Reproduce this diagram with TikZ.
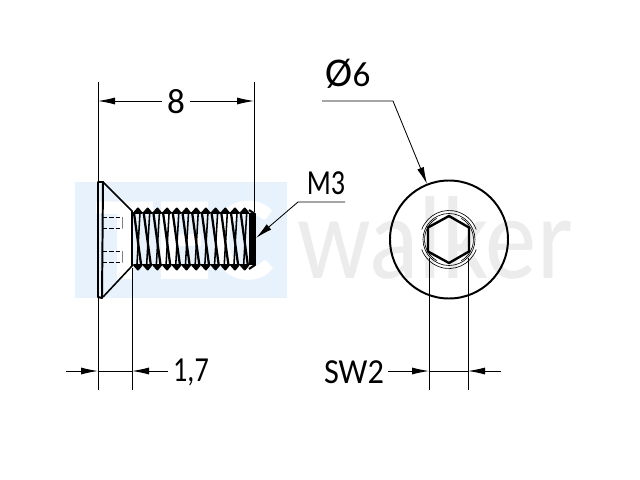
\documentclass[tikz,border=0pt]{standalone}
\usepackage{fontspec}
\setmainfont{Carlito}
\usetikzlibrary{arrows.meta,positioning,calc}
\definecolor{markblue}{RGB}{231,242,252}
\definecolor{markgray}{RGB}{236,236,236}
\tikzset{
  dimline/.style={black,line width=0.6pt},
  dimarrow/.style={black,line width=0.6pt,-{Latex[length=17*0.025cm,width=7*0.025cm]}},
  outline/.style={black,line width=1.4pt,line join=round},
  dimtext/.style={font=\fontsize{25}{25}\selectfont,inner sep=0pt,anchor=base},
}
\begin{document}
\begin{tikzpicture}[x=0.025cm,y=-0.025cm]
  \useasboundingbox (0,0) rectangle (640,480);
  \fill[white] (0,0) rectangle (640,480);

  % Watermark
  \fill[markblue] (75,182) rectangle (287,298);
  \node[white,font=\fontsize{85}{85}\selectfont\bfseries,inner sep=0pt,anchor=base] (markleft) at (185,279) {TEC};
  \node[markgray,font=\fontsize{84}{84}\selectfont,inner sep=0pt,anchor=base,xscale=0.87] (markright) at (435,278) {walker};

  % Head of the screw
  \draw[outline] (98,182) -- (98,297) -- (102,298) -- (103,182) -- cycle;
  \draw[outline,line width=1.1pt] (103,182) -- (132,211) -- (132,266) -- (103,297);
  % Socket (hidden)
  \foreach \y in {217,228,251,262}{
    \draw[dimline,dash pattern=on 3pt off 1.5pt] (103,\y) -- (122,\y);
  }
  \foreach \y/\z in {217/228,251/262}{
    \draw[black!50,line width=0.4pt] (122,\y) -- (122,\z);
  }

  % Thread
  \foreach \x in {133,142.7,...,240}{
    \draw[outline,fill=black] (\x+1,213) -- (\x+5,208.5) -- (\x+8.7,213) -- cycle;
    \draw[outline,fill=black] (\x+1,265) -- (\x+5,269.5) -- (\x+8.7,265) -- cycle;
    \draw[black,line width=1.6pt] (\x+1,213) -- (\x+8,264);
    \draw[black,line width=1.1pt] (\x+7,213) -- (\x+4,264);
  }
  \draw[black,line width=1.2pt] (134,212.5) -- (249,212.5) (134,264.5) -- (249,264.5);
  \draw[outline] (249,210) -- (255,214) -- (255,265) -- (249,269);
  \fill[black] (249,213) rectangle (254,265);

  % Front view
  \draw[outline] (449,239.5) circle (59);
  \draw[outline,line width=1.7pt] (449,216) -- (469,227.5) -- (469,251.5) -- (449,263) -- (428,251.5) -- (428,227.5) -- cycle;
  \draw[dimline,line width=0.45pt] (449,239.5) ++(20:29) arc (20:160:29);
  \draw[dimline,line width=0.45pt] (449,239.5) ++(200:29) arc (200:340:29);
  \draw[dimline,line width=0.45pt] (449,239.5) circle (26);
  \draw[dimline,line width=0.45pt] (449,239.5) ++(120:24.5) arc (120:240:24.5);
  \draw[dimline,line width=0.45pt] (449,239.5) ++(-60:24.5) arc (-60:60:24.5);

  % Dimension 8
  \node[dimtext] (len) at (176,113) {8};
  \draw[dimline] (98,82) -- (98,181);
  \draw[dimline] (254,82) -- (254,212);
  \draw[dimarrow] (len.west |- 0,101) ++(-5,0) -- (98,101);
  \draw[dimarrow] (len.east |- 0,101) ++(5,0) -- (254,101);

  % Dimension 1,7
  \node[dimtext,xscale=0.8] (chamfer) at (191,381) {1,7};
  \draw[dimline] (98,298) -- (98,390);
  \draw[dimline] (132,268) -- (132,390);
  \draw[dimarrow] (66,371) -- (98,371);
  \draw[dimline] (98,371) -- (132,371);
  \draw[dimarrow] (168,371) -- (132,371);

  % Dimension SW2
  \node[dimtext,xscale=0.92] (wrench) at (354,383) {SW2};
  \draw[dimline] (429,258) -- (429,390);
  \draw[dimline] (468,258) -- (468,390);
  \draw[dimarrow] (388,371) -- (429,371);
  \draw[dimline] (429,371) -- (468,371);
  \draw[dimarrow] (501,371) -- (468,371);

  % Leaders
  \node[dimtext] (dia) at (348,87) {{\fontsize{29}{29}\selectfont Ø}6};
  \draw[dimarrow] (322,101) -- (393,101) -- (427,184);
  \node[dimtext,xscale=0.8] (thread) at (326,194) {M3};
  \draw[dimarrow] (345,202) -- (298,202) -- (256,238);
\end{tikzpicture}
\end{document}
